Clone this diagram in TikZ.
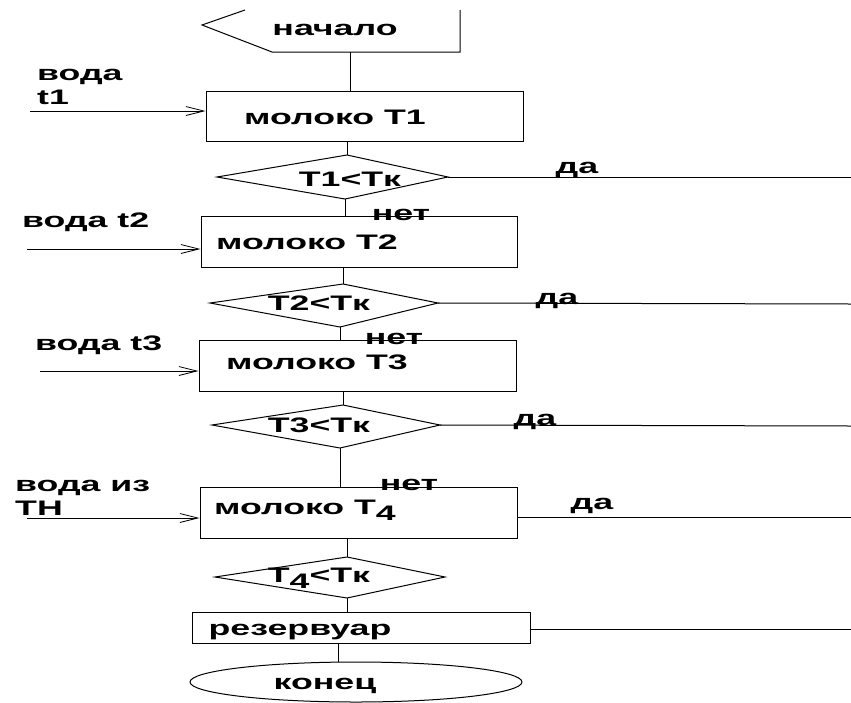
\documentclass[tikz,border=0pt]{standalone}
\usepackage{fontspec}
\newfontfamily\lblfont[FakeStretch=1.7]{Liberation Sans}
\usetikzlibrary{arrows.meta,shapes.geometric}
\tikzset{
  line/.style={line width=1pt,black},
  boxst/.style={draw,line width=1pt,rectangle,inner sep=0pt},
  txt/.style={font={\fontsize{21}{24}\selectfont\lblfont\bfseries},inner sep=0pt,text height=16pt,text depth=0pt},
  inarrow/.style={line width=1pt,-{Straight Barb[length=18pt,width=9pt,line width=0.8pt]}},
}
\begin{document}
\begin{tikzpicture}[x=1pt,y=-1pt]
\useasboundingbox (0,0) rectangle (851,702);
% start
\draw[line] (245,10) -- (202,25) -- (272,52) -- (460,52) -- (460,10);
\coordinate (startb) at (350,52);
\node[txt] (tstart) at (335,27) {начало};
% boxes
\node[boxst,minimum width=317pt,minimum height=50pt] (b1) at (364.5,116) {};
\node[boxst,minimum width=316pt,minimum height=51pt] (b2) at (359,241.5) {};
\node[boxst,minimum width=317pt,minimum height=51pt] (b3) at (357.5,365.5) {};
\node[boxst,minimum width=317pt,minimum height=51pt] (b4) at (358.5,512.5) {};
\node[boxst,minimum width=338pt,minimum height=31pt] (res) at (361,627.5) {};
\node[draw,line width=1pt,ellipse,minimum width=332pt,minimum height=40pt,inner sep=0pt] (fin) at (356,682) {};
\node[txt] (tb1) at (335,116) {молоко T1};
\node[txt] (tb2) at (307,241) {молоко T2};
\node[txt] (tb3) at (317,361) {молоко T3};
\node[txt] (tb4) at (305,506) {молоко T\raisebox{-0.3em}{4}};
\node[txt] (tres) at (300,627) {резервуар};
\node[txt] (tfin) at (325,681) {конец};
% diamonds
\coordinate (d1w) at (217,177); \coordinate (d1n) at (347,155); \coordinate (d1e) at (448,177); \coordinate (d1s) at (345,199);
\coordinate (d2w) at (210,303); \coordinate (d2n) at (343,284); \coordinate (d2e) at (438,303); \coordinate (d2s) at (340,327);
\coordinate (d3w) at (212,425); \coordinate (d3n) at (343,405); \coordinate (d3e) at (440,425); \coordinate (d3s) at (340,448);
\coordinate (d4w) at (215,577); \coordinate (d4n) at (347,557); \coordinate (d4e) at (445,577); \coordinate (d4s) at (347,598);
\draw[line] (d1w) -- (d1n) -- (d1e) -- (d1s) -- cycle;
\draw[line] (d2w) -- (d2n) -- (d2e) -- (d2s) -- cycle;
\draw[line] (d3w) -- (d3n) -- (d3e) -- (d3s) -- cycle;
\draw[line] (d4w) -- (d4n) -- (d4e) -- (d4s) -- cycle;
\node[txt] (td1) at (350,178) {T1<Tк};
\node[txt] (td2) at (319,302) {T2<Tк};
\node[txt] (td3) at (319,424) {T3<Tк};
\node[txt] (td4) at (319,574) {T\raisebox{-0.3em}{4}<Tк};
% vertical flow
\draw[line] (startb) -- (startb |- b1.north);
\draw[line] (d1n |- b1.south) -- (d1n);
\draw[line] (d1s) -- (d1s |- b2.north);
\draw[line] (d2n |- b2.south) -- (d2n);
\draw[line] (d2s) -- (d2s |- b3.north);
\draw[line] (d3n |- b3.south) -- (d3n);
\draw[line] (d3s) -- (d3s |- b4.north);
\draw[line] (d4n |- b4.south) -- (d4n);
\draw[line] (d4s) -- (d4s |- res.north);
\coordinate (rb) at (338,643);
\draw[line] (rb) -- (rb |- fin.north);
% yes branches
\coordinate (r1) at (851,177); \coordinate (r2) at (851,304); \coordinate (r3) at (851,426);
\coordinate (r4) at (851,517); \coordinate (r5) at (851,629);
\draw[line] (d1e) -- (r1);
\draw[line] (d2e) -- (r2);
\draw[line] (d3e) -- (r3);
\draw[line] (r4 -| b4.east) -- (r4);
\draw[line] (r5 -| res.east) -- (r5);
\node[txt] (y1) at (577,165) {да};
\node[txt] (y2) at (557,296) {да};
\node[txt] (y3) at (535,417) {да};
\node[txt] (y4) at (592,501) {да};
% no labels
\node[txt] (n1) at (401,212) {нет};
\node[txt] (n2) at (394,336) {нет};
\node[txt] (n3) at (409,482) {нет};
% inputs
\coordinate (i1) at (30,111); \coordinate (i2) at (27,249); \coordinate (i3) at (40,371); \coordinate (i4) at (27,518);
\draw[inarrow] (i1) -- (i1 -| b1.west);
\draw[inarrow] (i2) -- (i2 -| b2.west);
\draw[inarrow] (i3) -- (i3 -| b3.west);
\draw[inarrow] (i4) -- (i4 -| b4.west);
\node[txt,anchor=west] (w1a) at (37,72) {вода};
\node[txt,anchor=west] (w1b) at (37,96) {t1};
\node[txt,anchor=west] (w2) at (22,219) {вода t2};
\node[txt,anchor=west] (w3) at (35,342) {вода t3};
\node[txt,anchor=west] (w4a) at (15,483) {вода из};
\node[txt,anchor=west] (w4b) at (15,507) {TH};
\end{tikzpicture}
\end{document}
